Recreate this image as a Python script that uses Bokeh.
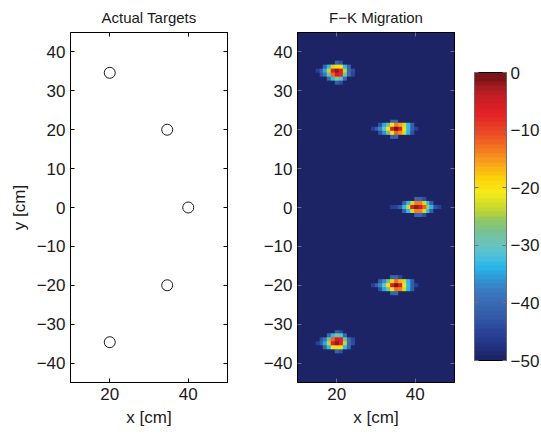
import numpy as np
from bokeh.plotting import figure
from bokeh.layouts import row
from bokeh.models import LinearAxis, FixedTicker, Range1d, LinearColorMapper
from bokeh.embed import file_html
from bokeh.resources import INLINE

FONT = "Liberation Sans"
MINUS = "\u2212"

# ---- data -------------------------------------------------------------
# true point-target positions [cm]
target_x = [20.0, 34.64, 40.0, 34.64, 20.0]
target_y = [34.64, 20.0, 0.0, -20.0, -34.64]

# reconstruction grid: 1 cm cells centred on integer positions
grid_x = list(range(10, 51))
grid_y = list(range(-45, 46))
FLOOR = -50  # dB floor of the display
TOP = 0      # dB ceiling of the display

B = FLOOR
# each focused spot: (first x [cm], top y [cm], rows of dB values top->bottom)
spot1_x0, spot1_ytop = 15, 37
spot1_db = [
    [B, B, B, B, B, -41, -43, B, B, B],
    [B, B, -41, -33, -22, -18, -21, -33, -41, B],
    [-46, -42, -35, -23, -6, -1, -6, -23, -40, -44],
    [B, -43, -39, -28, -11, -5, -7, -28, -40, -45],
    [B, B, B, -40, -33, -26, -32, -40, B, B],
    [B, B, B, B, B, -42, -44, B, B, B],
]
spot2_x0, spot2_ytop = 29, 22
spot2_db = [
    [B, B, B, B, B, -41, -41, B, B, B, B, B],
    [B, B, -43, -35, -28, -20, -13, -15, -22, -33, -42, B],
    [-46, -42, -37, -30, -19, -6, 0, -6, -21, -33, -42, -46],
    [B, B, -43, -36, -28, -19, -11, -14, -22, -34, -43, B],
    [B, B, B, B, B, -41, -41, B, B, B, B, B],
]
spot3_x0, spot3_ytop = 34, 2
spot3_db = [
    [B, B, B, B, B, B, -41, -41, -44, B, B, B, B],
    [B, B, B, -41, -33, -22, -13, -13, -22, -33, -42, B, B],
    [-46, -45, -42, -33, -22, -6, -1, -4, -11, -25, -34, -43, -46],
    [B, B, B, -41, -33, -22, -13, -13, -22, -33, -42, B, B],
    [B, B, B, B, B, B, -41, -41, -44, B, B, B, B],
]
spot4_x0, spot4_ytop = 29, -18
spot4_db = [
    [B, B, B, B, B, -41, -41, -45, B, B, B, B],
    [B, B, -42, -36, -28, -18, -12, -16, -22, -34, -42, B],
    [-46, -42, -37, -30, -19, -6, 0, -6, -21, -33, -42, -46],
    [B, B, -43, -35, -28, -19, -12, -13, -22, -34, -42, B],
    [B, B, B, B, B, -41, -41, B, B, B, B, B],
]
spot5_x0, spot5_ytop = 15, -32
spot5_db = [
    [B, B, B, B, B, -42, -44, B, B, B],
    [B, B, B, -40, -33, -27, -32, -40, B, B],
    [B, -43, -39, -28, -11, -5, -6, -28, -40, -45],
    [-46, -42, -35, -23, -6, -1, -6, -23, -40, -44],
    [B, B, -41, -33, -21, -18, -19, -33, -41, B],
    [B, B, B, B, B, -41, -43, B, B, B],
]

cbar_ticks = [0, -10, -20, -30, -40, -50]
x_ticks = [20, 40]
y_ticks = [-40, -30, -20, -10, 0, 10, 20, 30, 40]

# ---- image assembly ---------------------------------------------------
img = np.full((len(grid_y), len(grid_x)), float(FLOOR))
for x0, ytop, rows in [
    (spot1_x0, spot1_ytop, spot1_db),
    (spot2_x0, spot2_ytop, spot2_db),
    (spot3_x0, spot3_ytop, spot3_db),
    (spot4_x0, spot4_ytop, spot4_db),
    (spot5_x0, spot5_ytop, spot5_db),
]:
    for r, vals in enumerate(rows):
        yi = grid_y.index(ytop - r)
        for c, v in enumerate(vals):
            xi = grid_x.index(x0 + c)
            img[yi, xi] = max(img[yi, xi], v)

# ---- colour map (64 steps, jet-like) -----------------------------------
anchor_db = [-50, -48, -46, -43, -40, -38, -36, -34, -32, -30, -28, -26, -24,
             -22, -20, -17.5, -15, -12.5, -9.5, -6, -3, -1.5, 0]
anchor_hex = ["#1c2466", "#223080", "#283f93", "#3158a6", "#3a6cb3", "#3a7cc2",
              "#3097d5", "#27b5ea", "#4ec0dc", "#69c4bd", "#74c29a", "#8ec66a",
              "#b0cf41", "#d4de27", "#f5eb17", "#fdd20a", "#f8a51b", "#f37b20",
              "#eb4a25", "#e21f26", "#c41d24", "#a51c22", "#7d1416"]


def _rgb(h):
    return [int(h[i:i + 2], 16) for i in (1, 3, 5)]


anc = np.array([_rgb(h) for h in anchor_hex], dtype=float)
N_STEPS = 64
steps = np.linspace(FLOOR, TOP, N_STEPS)
palette = []
for s in steps:
    rgb = [int(round(np.interp(s, anchor_db, anc[:, k]))) for k in range(3)]
    palette.append("#%02x%02x%02x" % tuple(rgb))

mapper = LinearColorMapper(palette=palette, low=FLOOR, high=TOP)

TICK_DARK = "#6a6f8a"
BORDERS = dict(min_border_top=32, min_border_bottom=53)


# ---- helpers ----------------------------------------------------------
def label_map(vals):
    return {v: (MINUS + str(-v)) if v < 0 else str(v) for v in vals}


def style_axis(ax, ticks, show_labels=True, tick_color="black"):
    ax.ticker = FixedTicker(ticks=ticks)
    ax.minor_tick_line_color = None
    ax.major_tick_in = 4
    ax.major_tick_out = 0
    ax.major_tick_line_color = tick_color
    ax.axis_line_color = "black"
    ax.major_label_text_font = FONT
    ax.major_label_text_color = "#1a1a1a"
    ax.major_label_text_font_size = "17px"
    ax.axis_label_text_font = FONT
    ax.axis_label_text_font_style = "normal"
    ax.axis_label_text_font_size = "17px"
    ax.axis_label_text_color = "#1a1a1a"
    if show_labels:
        ax.major_label_overrides = label_map(ticks)
        ax.major_label_standoff = 5
    else:
        ax.major_label_overrides = {t: "" for t in ticks}
        ax.major_label_standoff = 0


def panel(title, left, right):
    p = figure(frame_width=157, frame_height=350,
               x_range=Range1d(10, 50), y_range=Range1d(-45, 45),
               min_border_left=left, min_border_right=right,
               output_backend="svg", toolbar_location=None, title=title,
               **BORDERS)
    p.grid.visible = False
    p.outline_line_color = "black"
    p.outline_line_width = 1
    p.background_fill_color = "white"
    p.border_fill_color = "white"
    p.title.align = "center"
    p.title.text_font = FONT
    p.title.text_font_size = "15px"
    p.title.text_font_style = "normal"
    p.title.text_color = "#1a1a1a"
    p.title.text_line_height = 1.0
    p.title.standoff = 13
    return p


# ---- left: actual targets ---------------------------------------------
p1 = panel("Actual Targets", 70, 33)
style_axis(p1.xaxis[0], x_ticks)
style_axis(p1.yaxis[0], y_ticks)
p1.xaxis[0].axis_label = "x [cm]"
p1.yaxis[0].axis_label = "y [cm]"
top1 = LinearAxis()
right1 = LinearAxis()
style_axis(top1, x_ticks, show_labels=False)
style_axis(right1, y_ticks, show_labels=False)
p1.add_layout(top1, "above")
p1.add_layout(right1, "right")
p1.scatter(target_x, target_y, marker="circle", size=11,
           fill_color=None, line_color="black", line_width=0.9)

# ---- middle: F-K migration image --------------------------------------
p2 = panel("F" + MINUS + "K Migration", 35, 8)
p2.image(image=[img], x=grid_x[0] - 0.5, y=grid_y[0] - 0.5,
         dw=len(grid_x), dh=len(grid_y), color_mapper=mapper)
style_axis(p2.xaxis[0], x_ticks, tick_color=TICK_DARK)
style_axis(p2.yaxis[0], y_ticks, tick_color=TICK_DARK)
p2.xaxis[0].axis_label = "x [cm]"
top2 = LinearAxis()
right2 = LinearAxis()
style_axis(top2, x_ticks, show_labels=False, tick_color=TICK_DARK)
style_axis(right2, y_ticks, show_labels=False, tick_color=TICK_DARK)
p2.add_layout(top2, "above")
p2.add_layout(right2, "right")

# ---- right: colour bar -------------------------------------------------
# same frame height as the panels; the bar itself is inset via the y range
px_per_db = 288.0 / (TOP - FLOOR)
p3 = figure(frame_width=32, frame_height=350,
            x_range=Range1d(0, 1),
            y_range=Range1d(FLOOR - 22 / px_per_db, TOP + 40 / px_per_db),
            min_border_left=12, min_border_right=37,
            x_axis_location=None, y_axis_location="right",
            output_backend="svg", toolbar_location=None, **BORDERS)
p3.grid.visible = False
p3.outline_line_color = None
bar = np.array(steps + (TOP - FLOOR) / (2.0 * N_STEPS), dtype=float).reshape(-1, 1)
p3.image(image=[bar], x=0, y=FLOOR, dw=1, dh=TOP - FLOOR, color_mapper=mapper)
p3.quad(left=[0], right=[1], bottom=[FLOOR], top=[TOP],
        fill_color=None, line_color="black", line_width=1)
style_axis(p3.yaxis[0], cbar_ticks, tick_color=TICK_DARK)
p3.yaxis[0].axis_line_color = None
p3.yaxis[0].major_label_standoff = 4
left3 = LinearAxis()
style_axis(left3, cbar_ticks, show_labels=False, tick_color=TICK_DARK)
left3.axis_line_color = None
p3.add_layout(left3, "left")

layout = row(p1, p2, p3)
open("out.html", "w").write(file_html(layout, INLINE))
